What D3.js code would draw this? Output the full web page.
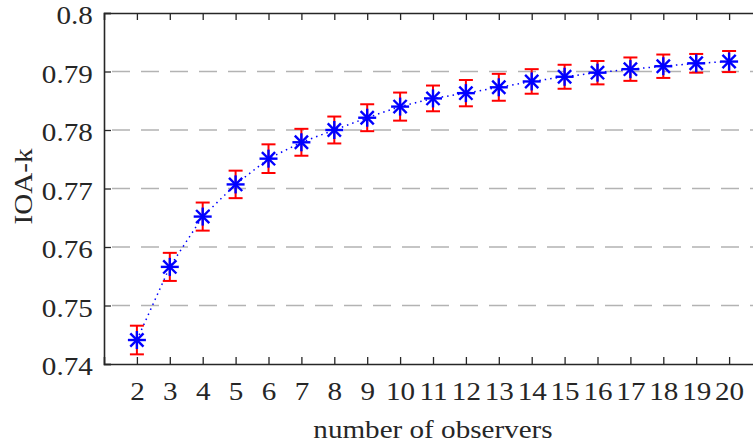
<!DOCTYPE html>
<html>
<head>
<meta charset="utf-8">
<script src="https://cdn.jsdelivr.net/npm/d3@7"></script>
<style>
  html, body { margin: 0; padding: 0; background: #fff; }
  svg { display: block; }
  svg text { font-family: "Liberation Serif", "Times New Roman", serif; fill: #262626; }
</style>
</head>
<body>
<svg id="chart" width="753" height="443"></svg>
<script>
// Number of observers on the x axis
const observers = [2, 3, 4, 5, 6, 7, 8, 9, 10, 11, 12, 13, 14, 15, 16, 17, 18, 19, 20];
// Mean IOA-k per observer count
const meanIOA = [0.7441, 0.7566, 0.7652, 0.7707, 0.7751, 0.7779, 0.7800, 0.7821, 0.7840, 0.7854,
                 0.7863, 0.7873, 0.7883, 0.7891, 0.7898, 0.7904, 0.7909, 0.7914, 0.7917];
// Half-length of each error bar
const errIOA = [0.00245, 0.0024, 0.0024, 0.00235, 0.00245, 0.0023, 0.0023, 0.0023, 0.0024, 0.0022,
                0.00225, 0.0023, 0.0021, 0.00205, 0.002, 0.002, 0.002, 0.0016, 0.0018];
const yTicks = [0.74, 0.75, 0.76, 0.77, 0.78, 0.79, 0.8];
const yTickLabels = ["0.74", "0.75", "0.76", "0.77", "0.78", "0.79", "0.8"];

const svg = d3.select("#chart");
const plotLeft = 104, plotTop = 13, plotBottom = 364, plotRight = 762;

const x = d3.scaleLinear().domain([1, 21]).range([plotLeft, plotRight]);
const y = d3.scaleLinear().domain([0.74, 0.8]).range([plotBottom, plotTop]);

const axisColor = "#262626";
const fontSize = 26;
const stretch = 1.12; // slightly wide glyphs

// Dashed horizontal grid
svg.append("g").selectAll("line")
  .data(yTicks.filter(t => t > 0.74 && t < 0.8))
  .join("line")
  .attr("x1", plotLeft).attr("x2", plotRight)
  .attr("y1", d => y(d)).attr("y2", d => y(d))
  .attr("stroke", "#b3b3b3")
  .attr("stroke-width", 1.5)
  .attr("stroke-dasharray", "18,11")
  .attr("stroke-dashoffset", -8);

// Axes (inward ticks, box style)
const xAxisBottom = d3.axisBottom(x).tickValues(observers).tickSize(-7).tickPadding(17.5).tickFormat(d3.format("d"));
const xAxisTop = d3.axisTop(x).tickValues(observers).tickSize(-7).tickFormat("");
const yAxisLeft = d3.axisLeft(y).tickValues(yTicks).tickSize(-7).tickPadding(10)
  .tickFormat((d, i) => yTickLabels[i]);

function styleAxis(g) {
  g.attr("font-size", null).attr("font-family", null);
  g.select(".domain").attr("stroke", axisColor).attr("stroke-width", 1.6);
  g.selectAll(".tick line").attr("stroke", axisColor).attr("stroke-width", 1.3);
  g.selectAll(".tick text")
    .attr("fill", null)
    .style("font-size", fontSize + "px")
    .attr("transform", `scale(${stretch},1)`);
}

svg.append("g").attr("transform", `translate(0,${plotBottom})`).call(xAxisBottom).call(styleAxis);
svg.append("g").attr("transform", `translate(0,${plotTop})`).call(xAxisTop).call(styleAxis);
const gy = svg.append("g").attr("transform", `translate(${plotLeft},0)`).call(yAxisLeft).call(styleAxis);
gy.selectAll(".tick text").attr("dy", "0.42em");

// Data
const pts = observers.map((o, i) => ({ o, m: meanIOA[i], e: errIOA[i] }));

// Dotted connecting line
svg.append("path")
  .datum(pts)
  .attr("fill", "none")
  .attr("stroke", "#0000ff")
  .attr("stroke-width", 1.5)
  .attr("stroke-dasharray", "1.5,4")
  .attr("d", d3.line().x(d => x(d.o)).y(d => y(d.m)));

// Error bars
const eb = svg.append("g").attr("stroke", "#ff0000").attr("stroke-width", 2);
const cap = 7;
pts.forEach(d => {
  const cx = x(d.o), y1 = y(d.m + d.e), y2 = y(d.m - d.e);
  eb.append("line").attr("x1", cx).attr("x2", cx).attr("y1", y1).attr("y2", y2);
  eb.append("line").attr("x1", cx - cap).attr("x2", cx + cap).attr("y1", y1).attr("y2", y1);
  eb.append("line").attr("x1", cx - cap).attr("x2", cx + cap).attr("y1", y2).attr("y2", y2);
});

// Asterisk markers
const mk = svg.append("g").attr("stroke", "#0000ff").attr("stroke-width", 2.4);
const r = 9, rd = 6.6;
pts.forEach(d => {
  const cx = x(d.o), cy = y(d.m);
  mk.append("line").attr("x1", cx - r).attr("x2", cx + r).attr("y1", cy).attr("y2", cy);
  mk.append("line").attr("x1", cx).attr("x2", cx).attr("y1", cy - r).attr("y2", cy + r);
  mk.append("line").attr("x1", cx - rd).attr("x2", cx + rd).attr("y1", cy - rd).attr("y2", cy + rd);
  mk.append("line").attr("x1", cx - rd).attr("x2", cx + rd).attr("y1", cy + rd).attr("y2", cy - rd);
});

// Axis titles
svg.append("text")
  .attr("transform", `translate(${(plotLeft + plotRight) / 2},438) scale(${stretch},1)`)
  .attr("text-anchor", "middle")
  .style("font-size", fontSize + "px")
  .text("number of observers");

svg.append("text")
  .attr("transform", `translate(32,186.5) rotate(-90) scale(${stretch},1)`)
  .attr("text-anchor", "middle")
  .style("font-size", fontSize + "px")
  .text("IOA-k");
</script>
</body>
</html>
